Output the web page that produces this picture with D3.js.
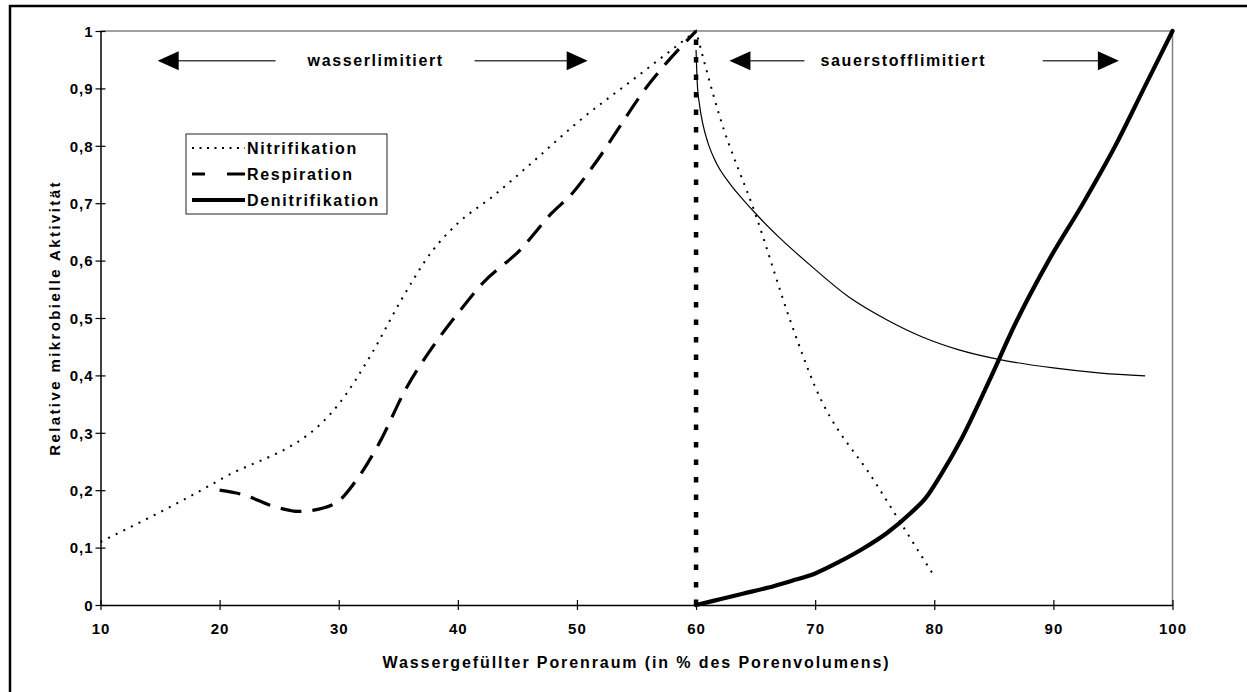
<!DOCTYPE html>
<html><head><meta charset="utf-8">
<script src="https://cdn.jsdelivr.net/npm/d3@7"></script>
<style>
body{margin:0;background:#fff;}
text{font-family:"Liberation Sans",Arial,sans-serif;font-weight:bold;fill:#000;}
</style></head>
<body><svg id="c" width="1247" height="692"></svg>
<script>
// ---- data ----
const xTicks = [10,20,30,40,50,60,70,80,90,100];
const yTicks = [0,0.1,0.2,0.3,0.4,0.5,0.6,0.7,0.8,0.9,1];
const yTickLabels = ["0","0,1","0,2","0,3","0,4","0,5","0,6","0,7","0,8","0,9","1"];

const nitX = [10,20,30,32.8,35.1,37.9,40,43,46.3,50,55,60,62,65,68,70,75,80];
const nitY = [0.11,0.218,0.35,0.439,0.526,0.618,0.665,0.713,0.772,0.84,0.92,1.0,0.85,0.68,0.49,0.38,0.215,0.05];

const resX = [20,22,24.5,26.7,28.7,30.1,31.5,33.4,35.6,37.9,40,42.1,45.2,47.9,49.6,51.3,56.1,60];
const resY = [0.2,0.192,0.172,0.163,0.169,0.183,0.218,0.282,0.375,0.45,0.508,0.561,0.618,0.683,0.717,0.763,0.909,1.0];

const denX = [60,62,64,66,68,70,72,74,76,78,79.3,80.5,82.3,84.6,86.8,89.6,92.5,95.2,97.6,100];
const denY = [0,0.01,0.02,0.03,0.042,0.055,0.075,0.098,0.125,0.16,0.187,0.225,0.29,0.39,0.49,0.6,0.7,0.8,0.9,1.0];

const curveX = [60,60.1,60.3,60.6,61,61.7,62.8,64,65,67,69.7,72.8,76,79,82,85.4,90,94,97.7];
const curveY = [0.967,0.91,0.87,0.835,0.805,0.77,0.735,0.705,0.682,0.64,0.59,0.537,0.497,0.467,0.445,0.428,0.413,0.404,0.399];

const boundaryX = [60,60];
const boundaryY = [0,1];

const legendNames = ["Nitrifikation","Respiration","Denitrifikation"];
const regionLabels = ["wasserlimitiert","sauerstofflimitiert"];
const xTitle = "Wassergefüllter Porenraum (in % des Porenvolumens)";
const yTitle = "Relative mikrobielle Aktivität";

// ---- layout ----
const svg = d3.select("#c");
svg.append("rect").attr("width",1247).attr("height",692).attr("fill","#fff");
svg.append("rect").attr("x",10).attr("y",6).attr("width",1300).attr("height",700)
  .attr("fill","none").attr("stroke","#000").attr("stroke-width",2.5);

const x = d3.scaleLinear().domain([10,100]).range([100.5,1172.5]);
const y = d3.scaleLinear().domain([0,1]).range([605,31]);

// plot frame (top/right gray)
svg.append("line").attr("x1",x(10)).attr("x2",x(100)).attr("y1",y(1)).attr("y2",y(1))
  .attr("stroke","#808080").attr("stroke-width",1.5);
svg.append("line").attr("x1",x(100)).attr("x2",x(100)).attr("y1",y(1)).attr("y2",y(0))
  .attr("stroke","#808080").attr("stroke-width",1.5);

// axes
const xAxis = d3.axisBottom(x).tickValues(xTicks).tickSizeInner(5).tickSizeOuter(0).tickPadding(13);
const gx = svg.append("g").attr("transform",`translate(0,${y(0)})`).call(xAxis);
const yAxis = d3.axisLeft(y).tickValues(yTicks).tickFormat((d,i)=>yTickLabels[i]).tickSizeInner(5).tickSizeOuter(0).tickPadding(8);
const gy = svg.append("g").attr("transform",`translate(${x(10)},0)`).call(yAxis);
[gx,gy].forEach(g=>{
  g.select(".domain").attr("stroke","#000").attr("stroke-width",1.5);
  g.selectAll(".tick line").attr("stroke","#000").attr("stroke-width",1.2);
  g.selectAll(".tick text").style("font-size","15px").style("letter-spacing","1px")
    .style("font-family","'Liberation Sans',Arial,sans-serif").style("font-weight","bold").attr("fill","#000");
});
gx.selectAll(".tick line").attr("y1",-5).attr("y2",5);
gy.selectAll(".tick line").attr("x1",-5).attr("x2",5);
gy.selectAll(".tick text").attr("dy","0.35em").attr("x",-7);

svg.append("text").attr("x",(x(10)+x(100))/2).attr("y",668).attr("text-anchor","middle")
  .style("font-size","16px").style("letter-spacing","1.9px").text(xTitle);
svg.append("text").attr("transform",`translate(60,${(y(0)+y(1))/2}) rotate(-90)`).attr("text-anchor","middle")
  .style("font-size","15px").style("letter-spacing","2.4px").text(yTitle);

// ---- series ----
const zip = (xs,ys)=>xs.map((v,i)=>[v,ys[i]]);
const line = d3.line().x(d=>x(d[0])).y(d=>y(d[1])).curve(d3.curveMonotoneX);
const g = svg.append("g");

g.append("path").attr("d",line(zip(curveX,curveY))).attr("fill","none").attr("stroke","#000").attr("stroke-width",1.2);
g.append("path").attr("d",line(zip(nitX.slice(0,12),nitY.slice(0,12))) + line(zip(nitX.slice(11),nitY.slice(11))).replace(/^M/,"L"))
  .attr("fill","none").attr("stroke","#000").attr("stroke-width",2).attr("stroke-dasharray","2,6.5");
g.append("path").attr("d",line(zip(resX,resY))).attr("fill","none").attr("stroke","#000").attr("stroke-width",3.2).attr("stroke-dasharray","21,11");
g.append("path").attr("d",d3.line().x(d=>x(d[0])).y(d=>y(d[1]))(zip(boundaryX,boundaryY)))
  .attr("fill","none").attr("stroke","#000").attr("stroke-width",4.5).attr("stroke-dasharray","5.5,12");
g.append("path").attr("d",line(zip(denX,denY))).attr("fill","none").attr("stroke","#000").attr("stroke-width",4.2).attr("stroke-linecap","round");

// ---- legend ----
const lg = svg.append("g");
lg.append("rect").attr("x",186).attr("y",134).attr("width",201).attr("height",80)
  .attr("fill","#fff").attr("stroke","#222").attr("stroke-width",1);
const lstyles = [{w:2,da:"2,5.5"},{w:3.2,da:"13,22,18"},{w:4.2,da:null}];
legendNames.forEach((n,i)=>{
  const yy = 148 + i*26;
  const l = lg.append("line").attr("x1",192).attr("x2",245).attr("y1",yy).attr("y2",yy)
    .attr("stroke","#000").attr("stroke-width",lstyles[i].w);
  if(lstyles[i].da) l.attr("stroke-dasharray",lstyles[i].da);
  lg.append("text").attr("x",247).attr("y",yy).attr("dy","0.35em").style("font-size","16px").style("letter-spacing","1.7px").text(n);
});

// ---- region annotations ----
const ay = 0.948;
function arrow(x1,x2){ // x1 = tip, x2 = line end
  const tip = x(x1), end = x(x2), dir = Math.sign(end-tip), yy = y(ay);
  svg.append("line").attr("x1",tip+dir*20).attr("x2",end).attr("y1",yy).attr("y2",yy)
    .attr("stroke","#444").attr("stroke-width",1.5);
  svg.append("path").attr("d",`M${tip},${yy}L${tip+dir*21},${yy-9.5}L${tip+dir*21},${yy+9.5}Z`).attr("fill","#000");
}
arrow(14.8,24.7); arrow(50.9,41.4);
arrow(62.8,69.1); arrow(95.5,89.1);
svg.append("text").attr("x",x(33.1)).attr("y",y(ay)).attr("dy","0.35em").attr("text-anchor","middle")
  .style("font-size","16px").style("letter-spacing","1.6px").text(regionLabels[0]);
svg.append("text").attr("x",x(77.4)).attr("y",y(ay)).attr("dy","0.35em").attr("text-anchor","middle")
  .style("font-size","16px").style("letter-spacing","1.6px").text(regionLabels[1]);
</script></body></html>
